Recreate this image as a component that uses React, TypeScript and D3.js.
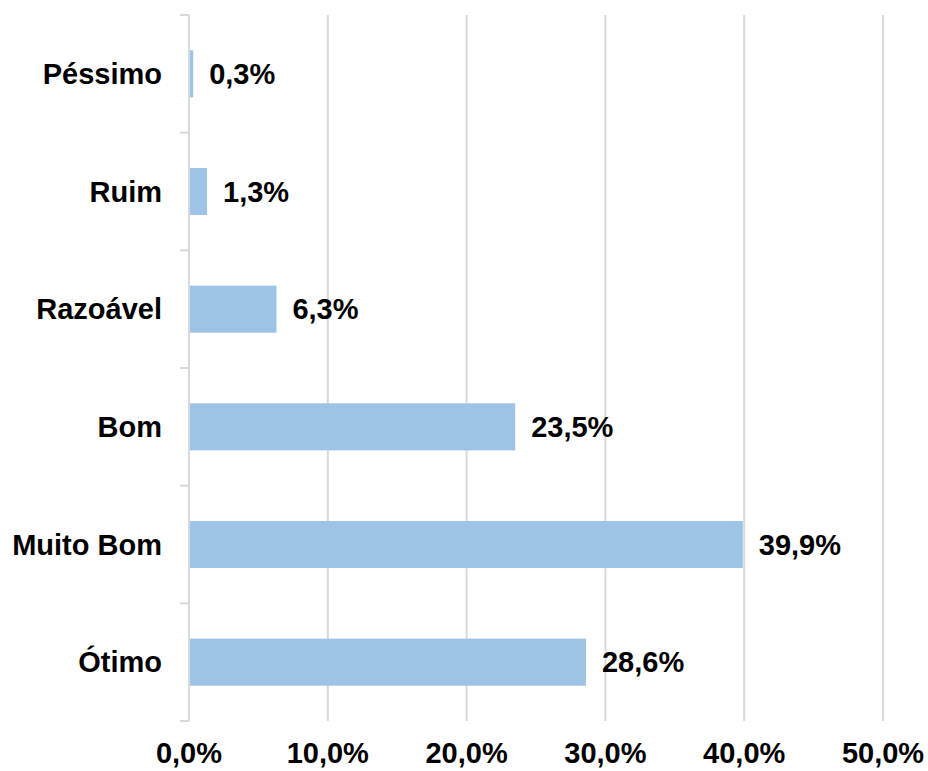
import React, { useEffect, useRef } from "react";
import * as d3 from "d3";

const categories = ["Péssimo", "Ruim", "Razoável", "Bom", "Muito Bom", "Ótimo"];
const values = [0.3, 1.3, 6.3, 23.5, 39.9, 28.6];
const xTicks = [0, 10, 20, 30, 40, 50];

const W = 928;
const H = 771;
const margin = { top: 15, right: 45, bottom: 50, left: 189 };
const FS = 29;

export default function App() {
  const ref = useRef<SVGSVGElement>(null);

  useEffect(() => {
    const svg = d3.select(ref.current);
    svg.selectAll("*").remove();
    const font = "'Liberation Sans', Arial, sans-serif";

    const x = d3.scaleLinear().domain([0, 50]).range([margin.left, W - margin.right]);
    const y = d3
      .scaleBand<string>()
      .domain(categories)
      .range([margin.top, H - margin.bottom])
      .paddingInner(0.6)
      .paddingOuter(0.3);
    const step = y.step();
    const y0 = margin.top;
    const y1 = H - margin.bottom;

    // gridlines
    svg
      .append("g")
      .selectAll("line")
      .data(xTicks.slice(1))
      .join("line")
      .attr("x1", (d) => x(d))
      .attr("x2", (d) => x(d))
      .attr("y1", y0)
      .attr("y2", y1)
      .attr("stroke", "#d9d9d9")
      .attr("stroke-width", 2);

    // y axis line + ticks at category boundaries
    svg
      .append("line")
      .attr("x1", x(0))
      .attr("x2", x(0))
      .attr("y1", y0)
      .attr("y2", y1)
      .attr("stroke", "#d9d9d9")
      .attr("stroke-width", 2);
    const bounds = d3.range(categories.length + 1).map((i) => y0 + i * step);
    svg
      .append("g")
      .selectAll("line")
      .data(bounds)
      .join("line")
      .attr("x1", x(0) - 9)
      .attr("x2", x(0))
      .attr("y1", (d) => d)
      .attr("y2", (d) => d)
      .attr("stroke", "#d9d9d9")
      .attr("stroke-width", 2);

    // bars
    svg
      .append("g")
      .selectAll("rect")
      .data(values)
      .join("rect")
      .attr("x", x(0) + 1)
      .attr("y", (d, i) => y(categories[i])!)
      .attr("width", (d) => x(d) - x(0) - 1)
      .attr("height", y.bandwidth())
      .attr("fill", "#9dc3e6");

    // value labels
    svg
      .append("g")
      .selectAll("text")
      .data(values)
      .join("text")
      .attr("x", (d) => x(d) + 16)
      .attr("y", (d, i) => y(categories[i])! + y.bandwidth() / 2)
      .attr("dy", "0.35em")
      .attr("font-family", font)
      .attr("font-weight", "bold")
      .attr("font-size", FS)
      .attr("fill", "#000")
      .text((d) => d.toFixed(1).replace(".", ",") + "%");

    // category labels
    svg
      .append("g")
      .selectAll("text")
      .data(categories)
      .join("text")
      .attr("x", x(0) - 27)
      .attr("y", (d) => y(d)! + y.bandwidth() / 2)
      .attr("dy", "0.35em")
      .attr("text-anchor", "end")
      .attr("font-family", font)
      .attr("font-weight", "bold")
      .attr("font-size", FS)
      .attr("fill", "#000")
      .text((d) => d);

    // x tick labels
    svg
      .append("g")
      .selectAll("text")
      .data(xTicks)
      .join("text")
      .attr("x", (d) => x(d))
      .attr("y", 753)
      .attr("dy", "0.35em")
      .attr("text-anchor", "middle")
      .attr("font-family", font)
      .attr("font-weight", "bold")
      .attr("font-size", FS)
      .attr("fill", "#000")
      .text((d) => d.toFixed(1).replace(".", ",") + "%");
  }, []);

  return (
    <svg
      ref={ref}
      width={W}
      height={H}
      style={{ position: "absolute", left: 0, top: 0, background: "#fff" }}
    />
  );
}
